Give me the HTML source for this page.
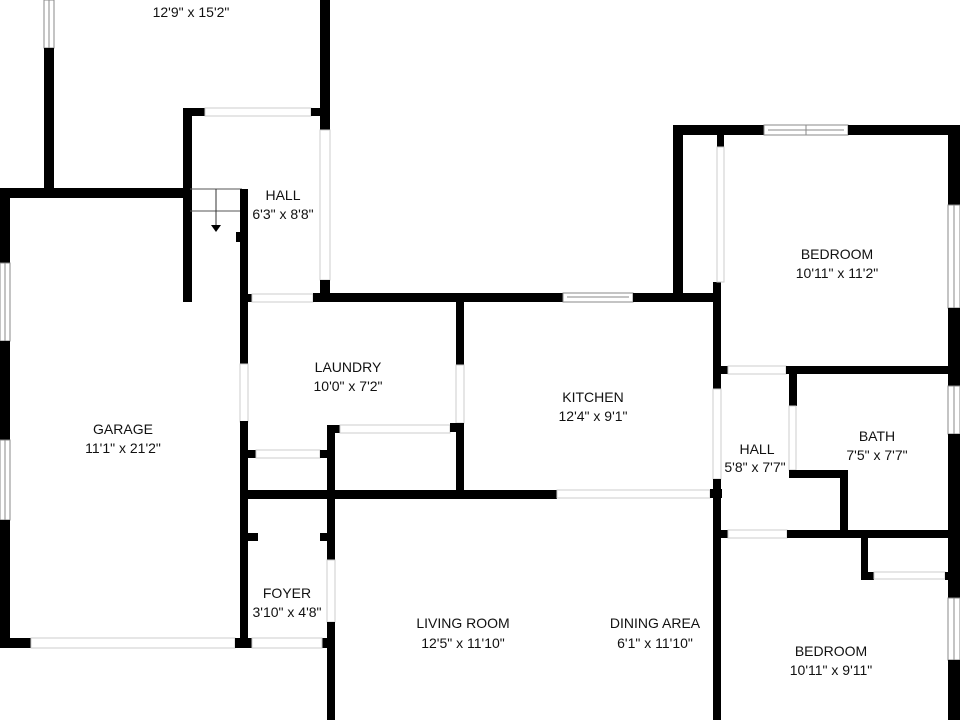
<!DOCTYPE html>
<html><head><meta charset="utf-8"><style>
html,body{margin:0;padding:0;background:#fff;}
svg{display:block;}
text{font-family:"Liberation Sans",sans-serif;font-size:14px;fill:#111;text-anchor:middle;}
.w{fill:#000;}
.d{fill:#fff;stroke:#ccc;stroke-width:1;}
.win{fill:#fff;stroke:#888;stroke-width:1;}
</style></head><body>
<svg width="960" height="720" viewBox="0 0 960 720">
<!-- top-left room -->
<rect class="win" x="44" y="0" width="10" height="48"/><line x1="49" y1="0" x2="49" y2="48" stroke="#888"/>
<rect class="w" x="44" y="48" width="10" height="145"/>
<rect class="w" x="320" y="0" width="10" height="130"/>
<rect class="w" x="0" y="188" width="192" height="10"/>
<!-- garage -->
<rect class="w" x="0" y="188" width="10" height="75"/>
<rect class="win" x="0" y="263" width="10" height="78"/><line x1="5" y1="263" x2="5" y2="341" stroke="#888"/>
<rect class="w" x="0" y="341" width="10" height="99"/>
<rect class="win" x="0" y="440" width="10" height="80"/><line x1="5" y1="440" x2="5" y2="520" stroke="#888"/>
<rect class="w" x="0" y="520" width="10" height="128"/>
<rect class="w" x="0" y="638" width="31" height="10"/>
<rect class="d" x="31" y="638" width="204" height="10"/>
<rect class="w" x="235" y="638" width="18" height="10"/>
<!-- hall top -->
<rect class="w" x="183" y="108" width="9" height="194"/>
<rect class="w" x="183" y="108" width="22" height="8"/>
<rect class="d" x="205" y="108" width="106" height="8"/>
<rect class="w" x="311" y="108" width="19" height="8"/>
<rect class="d" x="320" y="130" width="10" height="150"/>
<rect class="w" x="320" y="280" width="10" height="22"/>
<line x1="190" y1="189" x2="242" y2="189" stroke="#555"/>
<line x1="190" y1="211" x2="242" y2="211" stroke="#555"/>
<line x1="216" y1="189" x2="216" y2="226" stroke="#333"/>
<polygon points="211,225 221,225 216,232" fill="#000"/>
<rect class="w" x="240" y="189" width="8" height="175"/>
<rect class="w" x="236" y="232" width="12" height="10"/>
<rect class="d" x="240" y="364" width="8" height="58"/>
<rect class="w" x="240" y="421" width="8" height="227"/>
<rect class="w" x="240" y="294" width="12" height="8"/>
<rect class="d" x="252" y="294" width="61" height="8"/>
<rect class="w" x="313" y="293" width="250" height="9"/>
<rect class="win" x="563" y="293" width="70" height="9"/><line x1="567" y1="297" x2="629" y2="297" stroke="#888"/>
<rect class="w" x="633" y="293" width="87" height="9"/>
<!-- laundry -->
<rect class="w" x="456" y="302" width="8" height="63"/>
<rect class="d" x="456" y="365" width="8" height="58"/>
<rect class="w" x="456" y="423" width="8" height="68"/>
<rect class="w" x="327" y="425" width="13" height="8"/>
<rect class="d" x="340" y="425" width="110" height="8"/>
<rect class="w" x="450" y="423" width="14" height="9"/>
<rect class="w" x="327" y="425" width="8" height="135"/>
<rect class="w" x="248" y="450" width="8" height="8"/>
<rect class="d" x="256" y="450" width="64" height="8"/>
<rect class="w" x="320" y="450" width="10" height="8"/>
<rect class="w" x="240" y="490" width="317" height="9"/>
<rect class="d" x="557" y="490" width="153" height="8"/>
<rect class="w" x="710" y="489" width="12" height="9"/>
<!-- foyer -->
<rect class="w" x="248" y="533" width="10" height="8"/>
<rect class="w" x="320" y="533" width="10" height="8"/>
<rect class="d" x="327" y="560" width="8" height="62"/>
<rect class="w" x="327" y="622" width="8" height="98"/>
<rect class="w" x="322" y="638" width="10" height="10"/>
<rect class="d" x="252" y="638" width="70" height="10"/>
<!-- kitchen right / dining right -->
<rect class="w" x="713" y="282" width="8" height="107"/>
<rect class="d" x="713" y="389" width="8" height="90"/>
<rect class="w" x="713" y="479" width="8" height="241"/>
<rect class="w" x="713" y="530" width="12" height="8"/>
<!-- bedroom 1 -->
<rect class="w" x="673" y="125" width="91" height="10"/>
<rect class="win" x="764" y="125" width="84" height="10"/><line x1="768" y1="130" x2="844" y2="130" stroke="#888"/><line x1="806" y1="125" x2="806" y2="135" stroke="#888"/>
<rect class="w" x="848" y="125" width="112" height="10"/>
<rect class="w" x="673" y="125" width="10" height="177"/>
<rect class="w" x="673" y="293" width="48" height="9"/>
<rect class="w" x="717" y="135" width="7" height="12"/>
<rect class="d" x="717" y="147" width="7" height="135"/>
<rect class="w" x="948" y="125" width="12" height="80"/>
<rect class="win" x="948" y="205" width="12" height="103"/><line x1="954" y1="205" x2="954" y2="308" stroke="#888"/>
<rect class="w" x="948" y="308" width="12" height="78"/>
<rect class="w" x="717" y="366" width="11" height="8"/>
<rect class="d" x="728" y="366" width="58" height="8"/>
<rect class="w" x="786" y="366" width="174" height="8"/>
<!-- bath -->
<rect class="w" x="789" y="366" width="8" height="40"/>
<rect class="d" x="789" y="406" width="7" height="64"/>
<rect class="w" x="789" y="470" width="59" height="8"/>
<rect class="w" x="840" y="470" width="8" height="62"/>
<rect class="win" x="948" y="386" width="12" height="48"/><line x1="954" y1="386" x2="954" y2="434" stroke="#888"/>
<rect class="w" x="948" y="434" width="12" height="164"/>
<rect class="w" x="717" y="530" width="11" height="8"/>
<rect class="d" x="728" y="530" width="59" height="8"/>
<rect class="w" x="787" y="530" width="173" height="8"/>
<!-- closet -->
<rect class="w" x="861" y="538" width="7" height="41"/>
<rect class="w" x="861" y="572" width="13" height="8"/>
<rect class="d" x="874" y="572" width="71" height="7"/>
<rect class="w" x="945" y="572" width="15" height="8"/>
<rect class="win" x="948" y="598" width="12" height="62"/><line x1="954" y1="598" x2="954" y2="660" stroke="#888"/>
<rect class="w" x="948" y="660" width="12" height="60"/>
<!-- labels -->
<text x="191" y="17">12'9" x 15'2"</text>
<text x="283" y="200">HALL</text><text x="283" y="219">6'3" x 8'8"</text>
<text x="837" y="259">BEDROOM</text><text x="837" y="278">10'11" x 11'2"</text>
<text x="348" y="372">LAUNDRY</text><text x="348" y="391">10'0" x 7'2"</text>
<text x="593" y="402">KITCHEN</text><text x="593" y="421">12'4" x 9'1"</text>
<text x="123" y="434">GARAGE</text><text x="123" y="453">11'1" x 21'2"</text>
<text x="757" y="454">HALL</text><text x="755" y="472">5'8" x 7'7"</text>
<text x="877" y="441">BATH</text><text x="877" y="460">7'5" x 7'7"</text>
<text x="287" y="598">FOYER</text><text x="287" y="617">3'10" x 4'8"</text>
<text x="463" y="628">LIVING ROOM</text><text x="463" y="648">12'5" x 11'10"</text>
<text x="655" y="628">DINING AREA</text><text x="655" y="648">6'1" x 11'10"</text>
<text x="831" y="656">BEDROOM</text><text x="831" y="675">10'11" x 9'11"</text>
</svg>
</body></html>
